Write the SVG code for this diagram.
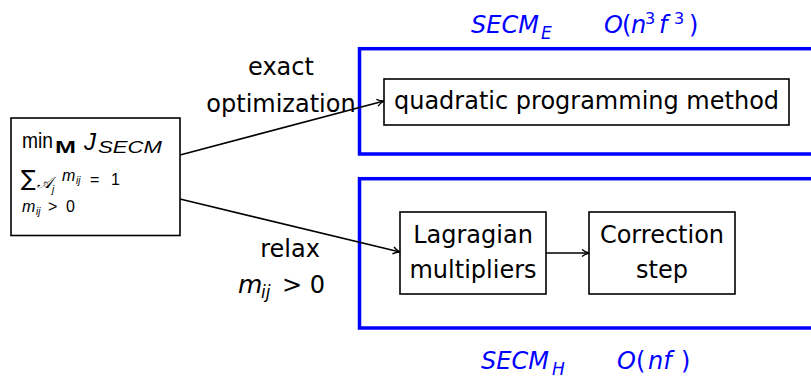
<svg xmlns="http://www.w3.org/2000/svg" width="811" height="380" viewBox="0 0 811 380">
  <defs>
    <marker id="arrow" viewBox="0 0 10 10" refX="9" refY="5" markerWidth="10" markerHeight="10" markerUnits="userSpaceOnUse" orient="auto">
      <path d="M2,1.5 Q5,4 9,5 Q5,6 2,8.5" fill="none" stroke="#000" stroke-width="1.4"/>
    </marker>
  </defs>
  <style>
    .box { fill: #fff; stroke: #000; stroke-width: 1.6; }
    .group { fill: none; stroke: #0000ff; stroke-width: 3.5; }
    .t { font-family: "DejaVu Sans", "Liberation Sans", sans-serif; fill: #000; }
    .m { font-family: "Liberation Sans", "DejaVu Sans", sans-serif; fill: #000; }
    .lbl { font-size: 24px; }
    .blue { fill: #0000ff; font-size: 24px; }
    .it { font-style: italic; }
    .edge { fill: none; stroke: #000; stroke-width: 1.6; marker-end: url(#arrow); }
  </style>

  <!-- method groups -->
  <g id="secm-e">
    <rect class="group" x="359.5" y="48.7" width="460" height="105.3"/>
    <text class="t blue" y="33"><tspan class="it" x="471">SECM</tspan><tspan class="it" font-size="17" x="541" y="39">E</tspan><tspan class="it" x="604" y="33">O</tspan><tspan x="622">(</tspan><tspan class="it" x="631">n</tspan><tspan font-size="16" x="645" y="24">3</tspan><tspan class="it" x="659" y="33">f</tspan><tspan font-size="16" x="674" y="24">3</tspan><tspan x="689" y="33">)</tspan></text>
  </g>
  <g id="secm-h">
    <rect class="group" x="359.5" y="178.7" width="460" height="149.3"/>
    <text class="t blue" y="369"><tspan class="it" x="481">SECM</tspan><tspan class="it" font-size="17" x="552" y="375">H</tspan><tspan class="it" x="617" y="369">O</tspan><tspan x="636">(</tspan><tspan class="it" x="648">nf</tspan><tspan x="681">)</tspan></text>
  </g>

  <!-- problem node: objective and constraints -->
  <g id="problem">
    <rect class="box" x="11" y="118" width="169" height="117.5"/>
    <text class="m" x="22" y="148" font-size="22" textLength="31" lengthAdjust="spacingAndGlyphs">min</text>
    <text class="m" x="55" y="153" font-size="17" font-weight="bold" textLength="21" lengthAdjust="spacingAndGlyphs">M</text>
    <text class="m it" x="84" y="150" font-size="24">J</text>
    <text class="m it" x="98" y="153" font-size="17" textLength="64" lengthAdjust="spacingAndGlyphs">SECM</text>
    <text class="t" x="21" y="186" font-size="22">∑</text>
    <text class="m it" x="37" y="188" font-size="16">𝒜</text>
    <text class="m it" x="52" y="193" font-size="10">j</text>
    <text class="m it" x="62" y="181" font-size="16">m</text>
    <text class="m it" x="76" y="184" font-size="10">ij</text>
    <text class="m" x="90" y="185" font-size="16">=</text>
    <text class="m" x="111" y="185" font-size="16">1</text>
    <text class="m it" x="22" y="212" font-size="16">m</text>
    <text class="m it" x="36" y="215" font-size="10">ij</text>
    <text class="m" x="48" y="212" font-size="16">&gt;</text>
    <text class="m" x="66" y="212" font-size="16">0</text>
  </g>

  <g id="qp">
    <rect class="box" x="384" y="79" width="405" height="46"/>
    <text class="t lbl" x="586.5" y="109" text-anchor="middle">quadratic programming method</text>
  </g>

  <g id="lagrange">
    <rect class="box" x="400" y="212" width="146" height="82"/>
    <text class="t lbl" x="473" y="243" text-anchor="middle">Lagragian</text>
    <text class="t lbl" x="473" y="278" text-anchor="middle">multipliers</text>
  </g>

  <g id="correction">
    <rect class="box" x="589" y="212" width="146" height="82"/>
    <text class="t lbl" x="662" y="243" text-anchor="middle">Correction</text>
    <text class="t lbl" x="662" y="278" text-anchor="middle">step</text>
  </g>

  <!-- connectors with their labels -->
  <g id="edges">
    <path class="edge" d="M180,155 L384,101"/>
    <path class="edge" d="M180,199 L400,252"/>
    <path class="edge" d="M546,253 L589,253"/>
    <text class="t lbl" x="281" y="75" text-anchor="middle">exact</text>
    <text class="t lbl" x="281" y="112" text-anchor="middle">optimization</text>
    <text class="t lbl" x="290" y="257" text-anchor="middle">relax</text>
    <text class="t lbl" y="293"><tspan class="it" x="238" font-size="25">m</tspan><tspan class="it" font-size="17" x="261" y="298">ij</tspan><tspan x="282" y="293">&gt; 0</tspan></text>
  </g>
</svg>
